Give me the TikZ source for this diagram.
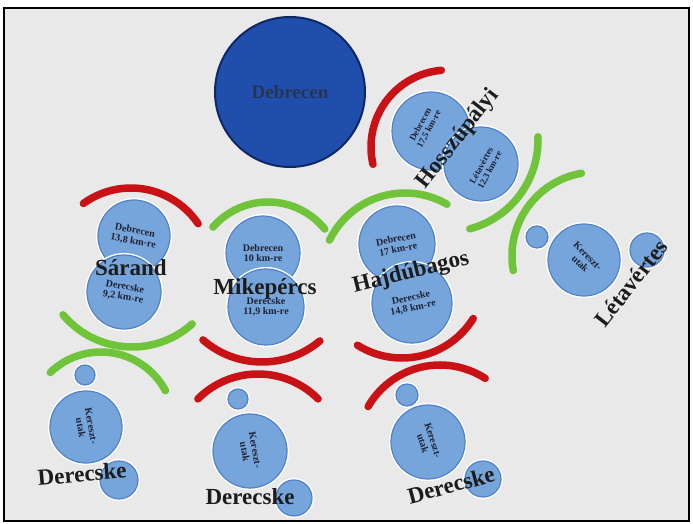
\documentclass[tikz,border=0pt]{standalone}
\usepackage{fontspec}
\setmainfont{Liberation Serif}
\definecolor{bggray}{RGB}{233,233,233}
\definecolor{stopfill}{RGB}{118,165,219}
\definecolor{stopedge}{RGB}{82,130,198}
\definecolor{debfill}{RGB}{32,78,172}
\definecolor{debedge}{RGB}{14,40,100}
\definecolor{debtext}{RGB}{40,52,84}
\definecolor{arcred}{RGB}{200,18,22}
\definecolor{arcgreen}{RGB}{112,196,58}
\definecolor{labelgray}{RGB}{28,28,28}
\definecolor{infotext}{RGB}{30,34,52}
\begin{document}
\begin{tikzpicture}[x=1pt,y=1pt,
    town/.style={font=\fontsize{23}{23}\selectfont\bfseries, text=labelgray, inner sep=0pt},
    stop/.style={circle, draw=stopedge, line width=1.2pt, fill=stopfill, inner sep=0pt,
      preaction={draw=white, line width=4pt}},
    info/.style={font=\fontsize{10}{10.5}\selectfont\bfseries, text=infotext, align=center},
    redarc/.style={draw=arcred, line width=7.5pt, line cap=round},
    greenarc/.style={draw=arcgreen, line width=7.5pt, line cap=round}]
  \useasboundingbox (0,0) rectangle (693,524);
  \fill[white] (0,0) rectangle (693,524);
  % Frame
  \draw[line width=1.5pt, fill=bggray] (4,3) rectangle (689,516);

  % Debrecen
  \node[circle, fill=debfill, draw=debedge, line width=2pt, minimum size=150,
        font=\fontsize{19}{19}\selectfont\bfseries, text=debtext] (debrecen) at (290,432) {Debrecen};

  % Hosszupalyi
  \draw[redarc] (448,377) ++(95:77) arc[start angle=95, end angle=193, radius=77];
  \draw[greenarc] (446,384) ++(2:92) arc[start angle=2, end angle=-75, radius=92];
  \node[stop, minimum size=78] (hosz1) at (431,393) {};
  \node[info, rotate=62, font=\fontsize{9}{9.5}\selectfont\bfseries] at ([shift={(-6,4)}]hosz1.center) {Debrecen\\17,5 km-re};
  \node[stop, minimum size=74] (hosz2) at (481,360) {};
  \node[info, rotate=62, font=\fontsize{9}{9.5}\selectfont\bfseries] at ([shift={(5,-4)}]hosz2.center) {Létavértes\\12,3 km-re};
  \node[town, rotate=52] (hosszupalyi) at (458,385) {Hosszúpályi};

  % Letavertes
  \draw[greenarc] (596,268) ++(100:84) arc[start angle=100, end angle=190, radius=84];
  \node[stop, minimum size=22] (leta0) at (537,287) {};
  \node[stop, minimum size=72, rotate=-45, info] (leta1) at (584,264) {Kereszt-\\utak};
  \node[stop, minimum size=34] (leta2) at (647,274) {};
  \node[town, rotate=52] (letavertes) at (631,241) {Létavértes};

  % Sarand
  \draw[redarc] (131,255) ++(126:81) arc[start angle=126, end angle=34, radius=81];
  \node[stop, minimum size=72, rotate=-10, info] (sar1) at (134,288) {Debrecen\\13,8 km-re};
  \node[stop, minimum size=74, rotate=-10, info] (sar2) at (124,232) {Derecske\\9,2 km-re};
  \node[town] (sarand) at (131,256) {Sárand};
  \draw[greenarc] (132,267) ++(220:90) arc[start angle=220, end angle=312, radius=90];
  \draw[greenarc] (101,99) ++(134:73) arc[start angle=134, end angle=28, radius=73];

  % Mikepercs
  \draw[greenarc] (268,249) ++(139:73) arc[start angle=139, end angle=39, radius=73];
  \node[stop, minimum size=74, info] (mik1) at (263,271) {Debrecen\\10 km-re};
  \node[stop, minimum size=76, info] (mik2) at (266,217) {Derecske\\11,9 km-re};
  \node[town] (mikepercs) at (265,235) {Mikepércs};
  \draw[redarc] (262,252) ++(229:90) arc[start angle=229, end angle=310, radius=90];
  \draw[redarc] (258,65) ++(135:85) arc[start angle=135, end angle=45, radius=85];

  % Hajdubagos
  \draw[greenarc] (405,247) ++(154:84) arc[start angle=154, end angle=60, radius=84];
  \node[stop, minimum size=76, rotate=12, info] (hajdu1) at (397,280) {Debrecen\\17 km-re};
  \node[stop, minimum size=80, rotate=12, info] (hajdu2) at (412,221) {Derecske\\14,8 km-re};
  \node[town, rotate=14] (hajdubagos) at (411,251) {Hajdúbagos};
  \draw[redarc] (402,250) ++(238:84) arc[start angle=238, end angle=328, radius=84];
  \draw[redarc] (440,76) ++(150:83) arc[start angle=150, end angle=57, radius=83];

  % Derecske, left
  \node[stop, minimum size=20] (der1a) at (85,149) {};
  \node[stop, minimum size=72, rotate=-80, info] (der1b) at (86,97) {Kereszt-\\utak};
  \node[stop, minimum size=38] (der1c) at (119,44) {};
  \node[town, rotate=5] (derecske1) at (82,50) {Derecske};

  % Derecske, middle
  \node[stop, minimum size=20] (der2a) at (238,125) {};
  \node[stop, minimum size=74, rotate=-80, info] (der2b) at (250,73) {Kereszt-\\utak};
  \node[stop, minimum size=36] (der2c) at (294,26) {};
  \node[town] (derecske2) at (250,27) {Derecske};

  % Derecske, right
  \node[stop, minimum size=22] (der3a) at (407,129) {};
  \node[stop, minimum size=74, rotate=-72, info] (der3b) at (428,82) {Kereszt-\\utak};
  \node[stop, minimum size=36] (der3c) at (483,45) {};
  \node[town, rotate=15] (derecske3) at (451,39) {Derecske};
\end{tikzpicture}
\end{document}
